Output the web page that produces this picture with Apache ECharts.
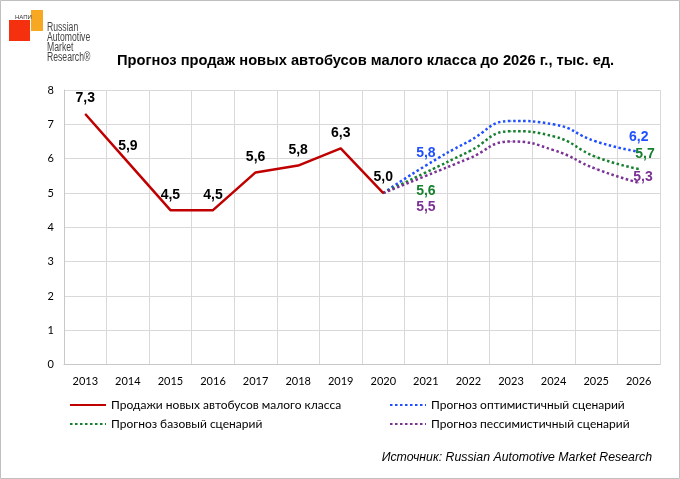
<!DOCTYPE html>
<html><head><meta charset="utf-8">
<script src="https://cdn.jsdelivr.net/npm/echarts@6/dist/echarts.min.js"></script>
<style>html,body{margin:0;padding:0;background:#fff}#c{width:680px;height:479px}</style>
</head><body><div id="c"></div>
<script>
var years = ['2013','2014','2015','2016','2017','2018','2019','2020','2021','2022','2023','2024','2025','2026'];
var sales = [7.3, 5.9, 4.5, 4.5, 5.6, 5.8, 6.3, 5.0, null, null, null, null, null, null];
var optimistic = [null, null, null, null, null, null, null, 5.0, 5.8, 6.5, 7.1, 7.0, 6.5, 6.2];
var base = [null, null, null, null, null, null, null, 5.0, 5.6, 6.2, 6.8, 6.65, 6.05, 5.7];
var pessimistic = [null, null, null, null, null, null, null, 5.0, 5.5, 6.0, 6.5, 6.25, 5.7, 5.3];
var names = ['Продажи новых автобусов малого класса', 'Прогноз оптимистичный сценарий', 'Прогноз базовый сценарий', 'Прогноз пессимистичный сценарий'];
var yTicks = [0, 8, 1];

var fmt = function (p) { return p.value.toFixed(1).replace('.', ','); };
function labelled(arr, idxs, pos, color, offs) {
  return arr.map(function (v, i) {
    var k = idxs.indexOf(i);
    if (v === null) return null;
    if (k < 0) return { value: v, label: { show: false } };
    return { value: v, label: { show: true, position: pos[k], color: color, offset: offs[k] } };
  });
}
var lblFont = { fontFamily: 'Liberation Sans', fontSize: 14, fontWeight: 'bold', formatter: fmt };
var legText = { fontFamily: 'Lato', fontSize: 12, color: '#000' };
var dots = [2.5, 2.5];

var chart = echarts.init(document.getElementById('c'), null, { renderer: 'canvas' });
chart.setOption({
  backgroundColor: '#fff',
  animation: false,
  title: {
    text: 'Прогноз продаж новых автобусов малого класса до 2026 г., тыс. ед.',
    left: 117, top: 53, padding: 0,
    textStyle: { fontFamily: 'Liberation Sans', fontSize: 14.7, fontWeight: 'bold', color: '#000' }
  },
  legend: [
    { data: [names[0]], left: 64, top: 394, itemWidth: 36, itemHeight: 12, itemStyle: { opacity: 0 }, textStyle: legText },
    { data: [names[1]], left: 384, top: 394, itemWidth: 36, itemHeight: 12, itemStyle: { opacity: 0 }, textStyle: legText },
    { data: [names[2]], left: 64, top: 413, itemWidth: 36, itemHeight: 12, itemStyle: { opacity: 0 }, textStyle: legText },
    { data: [names[3]], left: 384, top: 413, itemWidth: 36, itemHeight: 12, itemStyle: { opacity: 0 }, textStyle: legText }
  ],
  grid: { left: 64, right: 20, top: 90, bottom: 114.3 },
  xAxis: {
    type: 'category', data: years, boundaryGap: true,
    axisLine: { lineStyle: { color: '#c8c8c8' } },
    axisTick: { show: false },
    splitLine: { show: true, lineStyle: { color: '#d9d9d9' } },
    axisLabel: { color: '#000', fontFamily: 'Lato', fontSize: 11, margin: 11 }
  },
  yAxis: {
    type: 'value', min: yTicks[0], max: yTicks[1], interval: yTicks[2],
    axisLine: { show: true, lineStyle: { color: '#c8c8c8' } },
    axisTick: { show: false },
    splitLine: { lineStyle: { color: '#d9d9d9' } },
    axisLabel: { color: '#000', fontFamily: 'Lato', fontSize: 11, margin: 10 }
  },
  series: [
    { name: names[0], type: 'line', data: sales, symbol: 'circle', symbolSize: 1, showAllSymbol: true, z: 5,
      lineStyle: { color: '#C00000', width: 2.5 }, itemStyle: { color: '#C00000' },
      label: Object.assign({ show: true, position: 'top', distance: 8, color: '#000' }, lblFont) },
    { name: names[1], type: 'line', smooth: 0.5, symbol: 'circle', symbolSize: 1, showAllSymbol: true,
      data: labelled(optimistic, [8, 13], ['top', 'top'], '#1F4FFF', [[0, 0], [0, -2]]),
      lineStyle: { color: '#1F4FFF', width: 2.5, type: dots }, itemStyle: { color: '#1F4FFF' },
      label: Object.assign({ show: false }, lblFont) },
    { name: names[2], type: 'line', smooth: 0.5, symbol: 'circle', symbolSize: 1, showAllSymbol: true,
      data: labelled(base, [8, 13], ['bottom', 'right'], '#17802F', [[0, 6], [-9, -15]]),
      lineStyle: { color: '#17802F', width: 2.5, type: dots }, itemStyle: { color: '#17802F' },
      label: Object.assign({ show: false }, lblFont) },
    { name: names[3], type: 'line', smooth: 0.5, symbol: 'circle', symbolSize: 1, showAllSymbol: true,
      data: labelled(pessimistic, [8, 13], ['bottom', 'right'], '#7B3294', [[0, 19], [-11, -6]]),
      lineStyle: { color: '#7B3294', width: 2.5, type: dots }, itemStyle: { color: '#7B3294' },
      label: Object.assign({ show: false }, lblFont) }
  ],
  graphic: [
    { type: 'rect', shape: { x: 0.5, y: 0.5, width: 679, height: 478 }, style: { fill: 'none', stroke: '#bfbfbf', lineWidth: 1 }, silent: true },
    { type: 'rect', shape: { x: 31, y: 10, width: 12, height: 21 }, style: { fill: '#F7A823' } },
    { type: 'rect', shape: { x: 9, y: 20, width: 21, height: 21 }, style: { fill: '#F4300E' } },
    { type: 'text', left: 15, top: 14, style: { text: 'НАПИ', fontSize: 6, fill: '#333', fontFamily: 'Liberation Sans' } },
    { type: 'text', x: 47, y: 23, scaleX: 0.72, style: { text: 'Russian\nAutomotive\nMarket\nResearch®', fontSize: 12, lineHeight: 10, fill: '#444', fontFamily: 'Liberation Sans' } },
    { type: 'text', right: 28, top: 452, style: { text: 'Источник: Russian Automotive Market Research', fontSize: 12.3, fontStyle: 'italic', fill: '#000', fontFamily: 'Liberation Sans' } }
  ]
});
</script></body></html>
